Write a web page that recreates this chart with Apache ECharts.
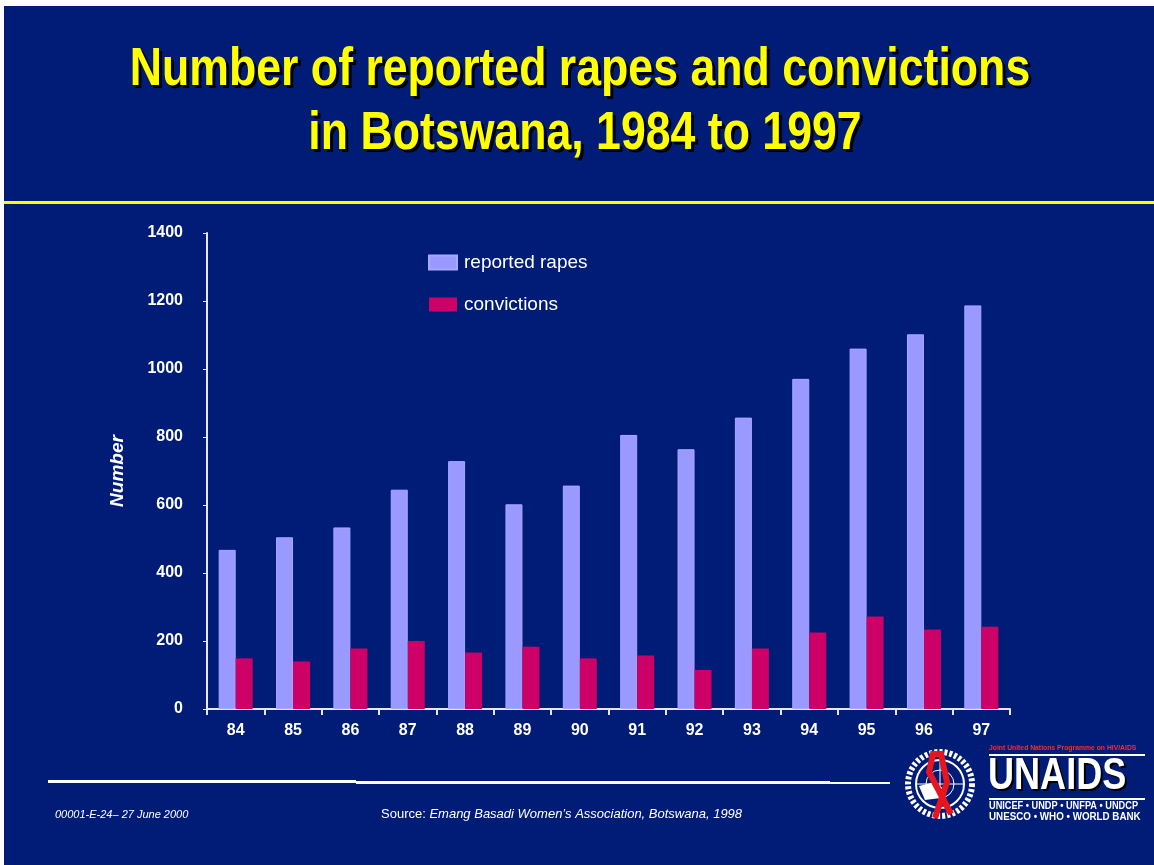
<!DOCTYPE html>
<html lang="en" style="height: 100%">
<head>
  <meta charset="utf-8">
</head>
<body style="height: 100%; margin: 0; background: #ffffff">
  <div id="container" style="width: 1154px; height: 865px"></div>
  <script type="text/javascript" src="https://cdn.jsdelivr.net/npm/echarts@6/dist/echarts.min.js"></script>
  <script type="text/javascript">
    // data
    var years = ['84', '85', '86', '87', '88', '89', '90', '91', '92', '93', '94', '95', '96', '97'];
    var reportedRapes = [468, 505, 534, 645, 729, 602, 657, 806, 764, 857, 971, 1060, 1102, 1187];
    var convictions = [149, 140, 178, 200, 166, 183, 149, 157, 115, 178, 225, 272, 234, 242];
    var yTicks = [0, 200, 400, 600, 800, 1000, 1200, 1400];

    var navy = '#001c77';
    var labelFont = '"Liberation Sans", Arial, sans-serif';

    // title line with a hard drop shadow (copy drawn underneath)
    function titleLine(text, x, y, color, dx)
    {
        return {
            type: 'text', x: x + dx, y: y + dx, scaleX: 0.93, scaleY: 1.1,
            style:
            {
                text: text,
                align: 'center', verticalAlign: 'middle',
                fill: color, font: 'bold 48px ' + labelFont
            }
        };
    }

    var myChart = echarts.init(document.getElementById('container'));

    var option =
    {
        backgroundColor: '#ffffff',
        animation: false,
        legend:
        {
            orient: 'vertical',
            left: 423,
            top: 248,
            itemWidth: 28,
            itemHeight: 14,
            itemGap: 23,
            icon: 'rect',
            textStyle:
            {
                color: '#ffffff',
                fontFamily: labelFont,
                fontSize: 19,
                padding: [0, 0, 0, 2]
            },
            data: ['reported rapes', 'convictions']
        },
        grid:
        {
            left: 207,
            right: 144,
            top: 233,
            bottom: 156,
            containLabel: false
        },
        xAxis:
        {
            type: 'category',
            data: years,
            axisLine: { lineStyle: { color: '#e6e6f5', width: 2 } },
            axisTick: { show: true, length: 6, lineStyle: { color: '#e6e6f5', width: 2 } },
            axisLabel:
            {
                color: '#ffffff',
                fontFamily: labelFont,
                fontWeight: 'bold',
                fontSize: 16,
                margin: 14
            }
        },
        yAxis:
        {
            type: 'value',
            min: yTicks[0],
            max: yTicks[yTicks.length - 1],
            interval: 200,
            name: 'Number',
            nameLocation: 'middle',
            nameGap: 80,
            nameTextStyle:
            {
                color: '#ffffff',
                fontFamily: labelFont,
                fontWeight: 'bold',
                fontStyle: 'italic',
                fontSize: 19
            },
            splitLine: { show: false },
            axisLine: { show: true, lineStyle: { color: '#e6e6f5', width: 2 } },
            axisTick: { show: true, length: 4, lineStyle: { color: '#e6e6f5', width: 1 } },
            axisLabel:
            {
                color: '#ffffff',
                fontFamily: labelFont,
                fontWeight: 'bold',
                fontSize: 16,
                margin: 24,
                formatter: function(v) { return String(v); }
            }
        },
        series:
        [
            {
                name: 'reported rapes',
                type: 'bar',
                data: reportedRapes,
                barWidth: 17,
                barGap: '0%',
                itemStyle: { color: '#9999ff', borderColor: '#a8a8ff', borderWidth: 1, borderRadius: 0 }
            },
            {
                name: 'convictions',
                type: 'bar',
                data: convictions,
                barWidth: 17,
                barGap: '0%',
                itemStyle: { color: '#cc0066', borderRadius: 0 }
            }
        ],
        graphic:
        [
            // slide background
            { type: 'rect', z: -100, silent: true, shape: { x: 4, y: 6, width: 1150, height: 859 }, style: { fill: navy } },
            // yellow rule under the title
            { type: 'rect', z: -90, silent: true, shape: { x: 4, y: 201, width: 1150, height: 3 }, style: { fill: '#ffff00' } },
            // title
            titleLine('Number of reported rapes and convictions', 580, 70, '#000000', 3),
            titleLine('in Botswana, 1984 to 1997', 585, 134, '#000000', 3),
            titleLine('Number of reported rapes and convictions', 580, 70, '#ffff00', 0),
            titleLine('in Botswana, 1984 to 1997', 585, 134, '#ffff00', 0),
            // footer rule
            { type: 'rect', z: -90, silent: true, shape: { x: 48, y: 780, width: 308, height: 3 }, style: { fill: '#ffffff' } },
            { type: 'rect', z: -90, silent: true, shape: { x: 356, y: 781, width: 474, height: 3 }, style: { fill: '#ffffff' } },
            { type: 'rect', z: -90, silent: true, shape: { x: 830, y: 782, width: 60, height: 2 }, style: { fill: '#ffffff' } },
            // footer texts
            {
                type: 'text', left: 55, top: 809,
                style: { text: '00001-E-24– 27 June 2000', fill: '#ffffff', font: 'italic 11px ' + labelFont }
            },
            {
                type: 'text', left: 381, top: 808,
                style:
                {
                    text: '{a|Source: }{b|Emang Basadi Women\u2019s Association, Botswana, 1998}',
                    rich:
                    {
                        a: { fill: '#ffffff', fontFamily: labelFont, fontSize: 13 },
                        b: { fill: '#ffffff', fontFamily: labelFont, fontSize: 13, fontStyle: 'italic' }
                    }
                }
            },
            // UNAIDS logo (approximation)
            {
                type: 'group', x: 905, y: 742,
                children:
                [
                    { type: 'circle', shape: { cx: 35, cy: 42, r: 32 }, style: { fill: 'none', stroke: '#ffffff', lineWidth: 6, lineDash: [3, 2] } },
                    { type: 'circle', shape: { cx: 35, cy: 42, r: 24 }, style: { fill: 'none', stroke: '#ffffff', lineWidth: 2 } },
                    { type: 'circle', shape: { cx: 35, cy: 42, r: 14 }, style: { fill: 'none', stroke: '#ffffff', lineWidth: 1 } },
                    { type: 'line', shape: { x1: 11, y1: 42, x2: 59, y2: 42 }, style: { stroke: '#ffffff', lineWidth: 1 } },
                    { type: 'line', shape: { x1: 35, y1: 18, x2: 35, y2: 66 }, style: { stroke: '#ffffff', lineWidth: 1 } },
                    { type: 'polygon', shape: { points: [[14, 44], [30, 40], [40, 48], [36, 56], [20, 58]] }, style: { fill: '#ffffff' } },
                    { type: 'polyline', shape: { points: [[30, 76], [42, 40], [36, 12], [28, 12], [24, 30], [46, 72]] }, style: { stroke: '#e8141e', lineWidth: 6, fill: 'none' } }
                ]
            },
            {
                type: 'text', x: 989, y: 744, scaleX: 0.85,
                style: { text: 'Joint United Nations Programme on HIV/AIDS', fill: '#ff2a2a', font: 'bold 8px ' + labelFont }
            },
            { type: 'rect', shape: { x: 989, y: 754, width: 156, height: 2 }, style: { fill: '#ffffff' } },
            {
                type: 'text', x: 990, y: 757, scaleX: 0.82,
                style: { text: 'UNAIDS', fill: '#000000', font: 'bold 44px ' + labelFont }
            },
            {
                type: 'text', x: 988, y: 755, scaleX: 0.82,
                style: { text: 'UNAIDS', fill: '#ffffff', font: 'bold 44px ' + labelFont }
            },
            { type: 'rect', shape: { x: 989, y: 798, width: 156, height: 2 }, style: { fill: '#ffffff' } },
            {
                type: 'text', x: 989, y: 801, scaleX: 0.92,
                style: { text: 'UNICEF • UNDP • UNFPA • UNDCP', fill: '#ffffff', font: 'bold 10px ' + labelFont }
            },
            {
                type: 'text', x: 989, y: 812, scaleX: 0.98,
                style: { text: 'UNESCO • WHO • WORLD BANK', fill: '#ffffff', font: 'bold 10px ' + labelFont }
            }
        ]
    };

    myChart.setOption(option);
  </script>
</body>
</html>
